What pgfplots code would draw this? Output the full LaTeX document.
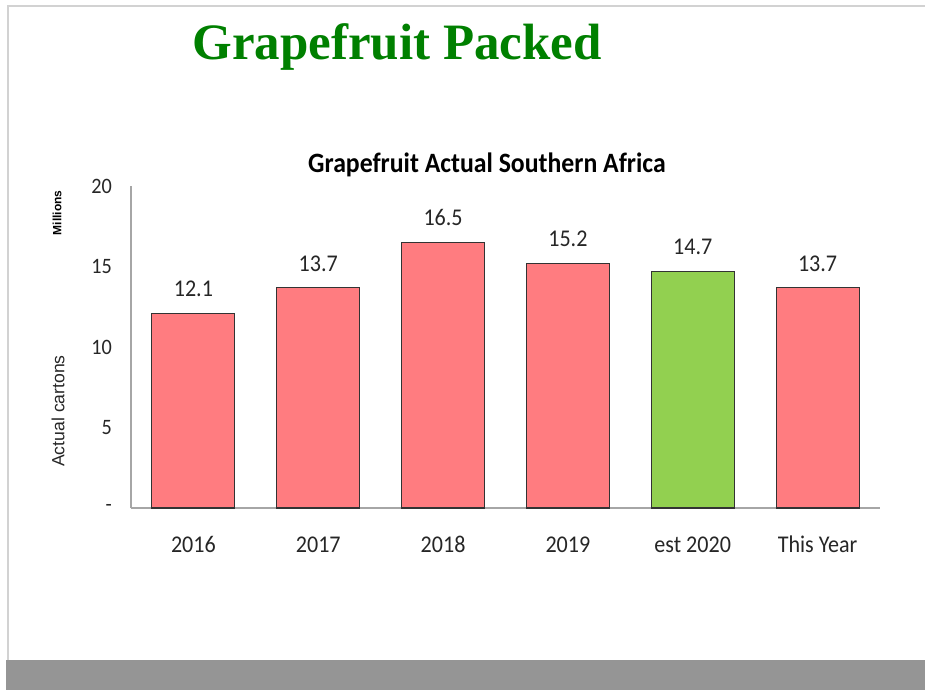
\documentclass[border=0pt]{standalone}
\usepackage{pgfplots}
\pgfplotsset{compat=1.18}
\usepackage{fontspec}
\setmainfont{Carlito}[FakeStretch=0.92]
\newfontfamily\titlefont{Liberation Serif}
\newfontfamily\arialfont{Liberation Sans}
\definecolor{barred}{RGB}{255,124,128}
\definecolor{bargreen}{RGB}{146,208,80}
\definecolor{titlegreen}{RGB}{0,128,0}
\definecolor{bandgray}{RGB}{149,149,149}
\definecolor{txt}{RGB}{38,38,38}
\begin{document}
\begin{tikzpicture}[x=0.5pt,y=0.5pt]
\begin{axis}[
  scale only axis, width=374.5pt, height=161pt,
  xmin=-0.5, xmax=5.5, ymin=0, ymax=20,
  axis x line*=bottom, axis y line*=left,
  axis line style={gray!70, line width=0.6pt, -},
  major tick length=0pt,
  xtick={0,1,2,3,4,5},
  xticklabels={2016,2017,2018,2019,est 2020,This Year},
  ytick={0,5,10,15,20},
  yticklabels={-,5,10,15,20},
  tick label style={font=\fontsize{12}{14}\selectfont, text=txt},
  yticklabel style={font=\fontsize{11}{13}\selectfont, xshift=-6pt},
  xticklabel style={yshift=-11pt, text height=1.6ex, text depth=0.3ex},
  ybar, bar width=41.5pt, bar shift=0pt,
  nodes near coords,
  every node near coord/.append style={font=\fontsize{12}{14}\selectfont, text=txt, yshift=4.5pt},
  nodes near coords style={/pgf/number format/.cd, fixed, fixed zerofill, precision=1, assume math mode=true},
]
\addplot[fill=barred, draw=black!80, line width=0.55pt] coordinates {(0,12.1) (1,13.7) (2,16.5) (3,15.2) (5,13.7)};
\addplot[fill=bargreen, draw=black!80, line width=0.55pt] coordinates {(4,14.7)};
\end{axis}
\begin{scope}[shift={(-131,-182)}]
\path[use as bounding box] (0,0) rectangle (925,690);
\draw[gray!35,line width=1.2pt] (8,30) -- (8,684) -- (925,684);
\fill[bandgray] (6,0) rectangle (925,30);
\node[font=\titlefont\bfseries\fontsize{25.5}{29}\selectfont,text=titlegreen] at (397,643) {Grapefruit Packed};
\node[font=\bfseries\fontsize{14}{16}\selectfont,text=black] at (487,525) {Grapefruit Actual Southern Africa};
\node[rotate=90,font=\arialfont\bfseries\fontsize{6}{7}\selectfont,text=black] at (57,477) {Millions};
\node[rotate=90,font=\arialfont\fontsize{8.8}{10}\selectfont,text=txt] at (58,279) {Actual cartons};
\end{scope}
\end{tikzpicture}
\end{document}
